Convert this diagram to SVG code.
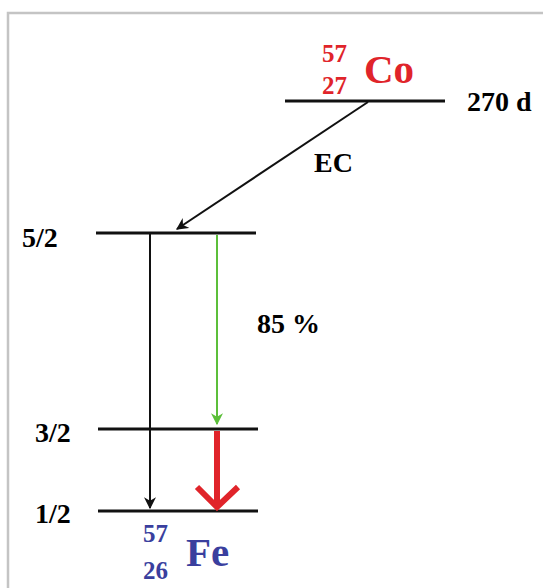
<svg xmlns="http://www.w3.org/2000/svg" width="543" height="588" viewBox="0 0 543 588">
<defs>
<style>
.t{font-family:"Liberation Serif","Times New Roman",serif;font-weight:bold}
.lvl{stroke:#111;stroke-width:3}
.red{fill:#e0242a}
.blue{fill:#3a3f9e}
</style>
<marker id="ah" viewBox="0 0 10 10" refX="9" refY="5" markerWidth="12" markerHeight="12" markerUnits="userSpaceOnUse" orient="auto">
<path d="M0,0 L10,5 L0,10 L3,5 Z" fill="#111"/>
</marker>
<marker id="ahg" viewBox="0 0 10 10" refX="9" refY="5" markerWidth="12" markerHeight="12" markerUnits="userSpaceOnUse" orient="auto">
<path d="M0,0 L10,5 L0,10 L3,5 Z" fill="#5cbf3a"/>
</marker>
</defs>
<rect width="543" height="588" fill="#fff"/>
<path d="M8,600 V13 H560" fill="none" stroke="#c4c4c4" stroke-width="2.5"/>
<g id="co">
<line class="lvl" x1="285" y1="101" x2="445" y2="101"/>
<text class="t red" x="322" y="62" font-size="25">57</text>
<text class="t red" x="322" y="94" font-size="25">27</text>
<text class="t red" x="364" y="83" font-size="41">Co</text>
<text class="t" x="467" y="111" font-size="28">270 d</text>
</g>
<g id="l52">
<line class="lvl" x1="96" y1="233" x2="256" y2="233"/>
<text class="t" x="22" y="247" font-size="28">5/2</text>
</g>
<g id="l32">
<line class="lvl" x1="98" y1="429" x2="258" y2="429"/>
<text class="t" x="35" y="442" font-size="28">3/2</text>
</g>
<g id="l12">
<line class="lvl" x1="98" y1="511" x2="258" y2="511"/>
<text class="t" x="35" y="523" font-size="28">1/2</text>
</g>
<g id="fe">
<text class="t blue" x="143" y="542" font-size="25">57</text>
<text class="t blue" x="143" y="579" font-size="25">26</text>
<text class="t blue" x="186" y="566" font-size="41">Fe</text>
</g>
<g id="connectors">
<line x1="368" y1="102" x2="177" y2="229" stroke="#111" stroke-width="2" marker-end="url(#ah)"/>
<text class="t" x="314" y="172" font-size="28">EC</text>
<line x1="150" y1="234" x2="150" y2="508" stroke="#111" stroke-width="2" marker-end="url(#ah)"/>
<line x1="217" y1="235" x2="217" y2="424" stroke="#5cbf3a" stroke-width="2" marker-end="url(#ahg)"/>
<text class="t" x="257" y="333" font-size="28">85 %</text>
<line x1="217" y1="431" x2="217" y2="504" stroke="#e0242a" stroke-width="6"/>
<path d="M197,487 L217,507 L238,487" fill="none" stroke="#e0242a" stroke-width="6"/>
</g>
</svg>
